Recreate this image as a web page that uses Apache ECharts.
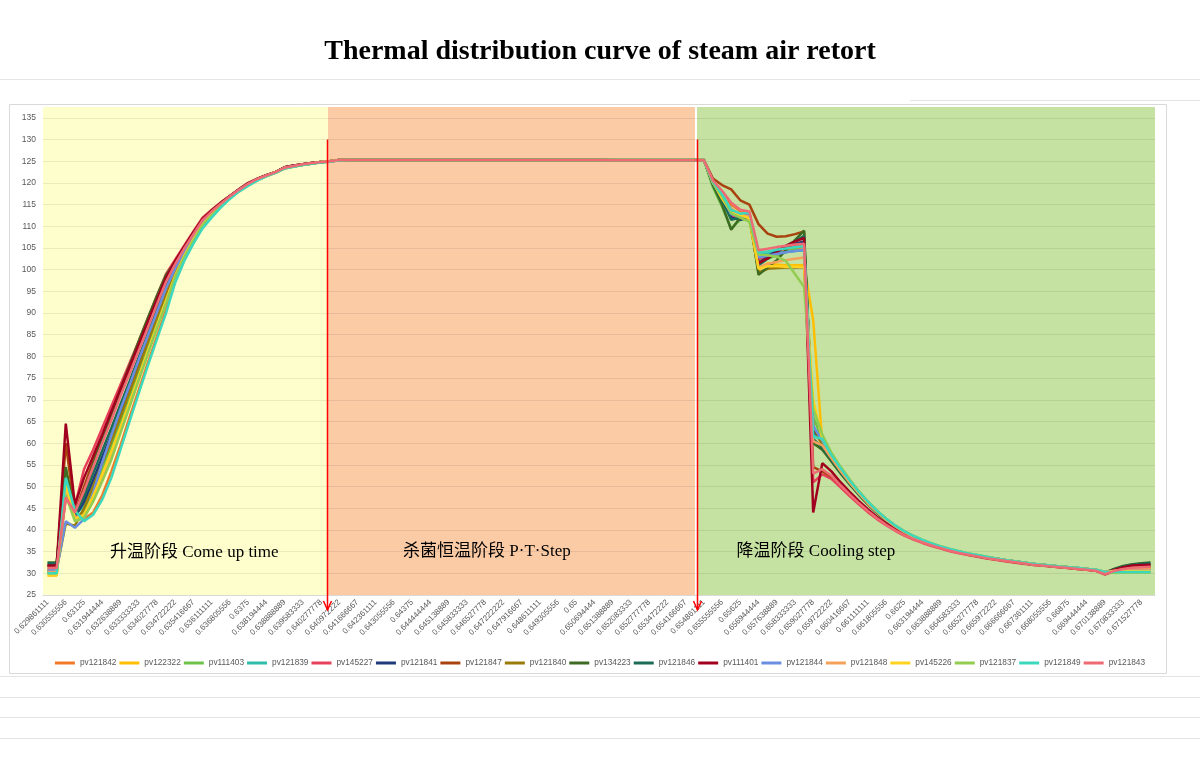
<!DOCTYPE html>
<html><head><meta charset="utf-8">
<script src="https://cdn.jsdelivr.net/npm/echarts@6/dist/echarts.min.js"></script>
<style>html,body{margin:0;padding:0;background:#fff}#c{width:1200px;height:760px}</style>
</head><body><div id="c"></div>
<script>
const categories = [
'0.629861111','0.630208333','0.630555556','0.630902778','0.63125','0.631597222','0.631944444','0.632291667','0.632638889','0.632986111',
'0.633333333','0.633680556','0.634027778','0.634375','0.634722222','0.635069444','0.635416667','0.635763889','0.636111111','0.636458333',
'0.636805556','0.637152778','0.6375','0.637847222','0.638194444','0.638541667','0.638888889','0.639236111','0.639583333','0.639930556',
'0.640277778','0.640625','0.640972222','0.641319444','0.641666667','0.642013889','0.642361111','0.642708333','0.643055556','0.643402778',
'0.64375','0.644097222','0.644444444','0.644791667','0.645138889','0.645486111','0.645833333','0.646180556','0.646527778','0.646875',
'0.647222222','0.647569444','0.647916667','0.648263889','0.648611111','0.648958333','0.649305556','0.649652778','0.65','0.650347222',
'0.650694444','0.651041667','0.651388889','0.651736111','0.652083333','0.652430556','0.652777778','0.653125','0.653472222','0.653819444',
'0.654166667','0.654513889','0.654861111','0.655208333','0.655555556','0.655902778','0.65625','0.656597222','0.656944444','0.657291667',
'0.657638889','0.657986111','0.658333333','0.658680556','0.659027778','0.659375','0.659722222','0.660069444','0.660416667','0.660763889',
'0.661111111','0.661458333','0.661805556','0.662152778','0.6625','0.662847222','0.663194444','0.663541667','0.663888889','0.664236111',
'0.664583333','0.664930556','0.665277778','0.665625','0.665972222','0.666319444','0.666666667','0.667013889','0.667361111','0.667708333',
'0.668055556','0.668402778','0.66875','0.669097222','0.669444444','0.669791667','0.670138889','0.670486111','0.670833333','0.671180556',
'0.671527778','0.671875'];

const seriesNames = ['pv121842','pv122322','pv111403','pv121839','pv145227','pv121841','pv121847','pv121840','pv134223','pv121846','pv111401','pv121844','pv121848','pv145226','pv121837','pv121849','pv121843'];
const seriesColors = ['#F07A2A','#FFBF00','#6CC24A','#2DBDAA','#E8405A','#1F3A7A','#A8420E','#9A7A0A','#3D6B22','#1C6B57','#A0001E','#6A8EE0','#F5A05A','#FFD21F','#92CC50','#3CD8BE','#EE6B74'];

const pv121842 = [30.5,30.5,48,43,42.5,44,48,53.5,59.5,66,72.3,78.5,84.6,90.8,97.3,102.3,106.2,109.8,112.3,114.5,116.5,118.1,119.4,120.6,121.6,122.3,123.3,123.8,124.2,124.5,124.7,124.9,
125.2,125.3,125.3,125.3,125.3,125.3,125.3,125.3,125.3,125.3,125.3,125.3,125.3,125.3,125.3,125.3,125.3,125.3,125.3,125.3,125.3,125.3,125.3,125.3,125.3,125.3,125.3,125.3,125.3,125.3,125.3,125.3,125.3,125.3,125.3,125.3,125.3,125.3,125.3,125.3,125.3,
120.5,118,115,113.5,113,102,102.8,103.6,104.4,104.9,105.3,62.5,60,56.8,53.8,51,48.5,46.2,44.2,42.4,40.9,39.6,38.5,37.6,36.8,36.1,35.5,35,34.5,34.1,33.7,33.4,33.1,32.8,32.5,32.2,32,31.8,31.6,31.4,31.2,31,30.8,30.3,30.9,31.2,31.2,31.2,31.2];
const pv122322 = [29.5,29.5,54,43,44,48.5,53.5,58.8,64.4,70.2,76,81.9,87.8,93.5,99,103.4,107.1,110.6,112.8,114.8,116.6,118.2,119.6,120.7,121.6,122.4,123.4,123.8,124.2,124.5,124.8,125,
125.3,125.3,125.3,125.3,125.3,125.3,125.3,125.3,125.3,125.3,125.3,125.3,125.3,125.3,125.3,125.3,125.3,125.3,125.3,125.3,125.3,125.3,125.3,125.3,125.3,125.3,125.3,125.3,125.3,125.3,125.3,125.3,125.3,125.3,125.3,125.3,125.3,125.3,125.3,125.3,125.3,
120,116,113,112.5,111.5,100,101.5,101.2,101,101,101,88.4,60,57,54,51.2,48.6,46.3,44.3,42.5,40.9,39.6,38.5,37.6,36.8,36.1,35.5,35,34.5,34.1,33.7,33.3,33,32.7,32.4,32.1,31.9,31.7,31.5,31.3,31.1,30.9,30.7,30.2,30.4,30.6,30.8,30.9,31];
const pv111403 = [30.5,30.5,48.5,42.5,44.5,49.2,54.4,59.6,65.2,71,76.8,82.6,88.4,94,99.3,103.6,107.3,110.7,112.8,114.8,116.6,118.3,119.6,120.8,121.7,122.4,123.4,123.8,124.2,124.5,124.8,125,
125.3,125.3,125.3,125.3,125.3,125.3,125.3,125.3,125.3,125.3,125.3,125.3,125.3,125.3,125.3,125.3,125.3,125.3,125.3,125.3,125.3,125.3,125.3,125.3,125.3,125.3,125.3,125.3,125.3,125.3,125.4,125.4,125.4,125.4,125.4,125.4,125.4,125.4,125.4,125.4,125.4,
119,114.5,109.5,111.5,112,102,102.5,103.3,104,104.8,105.8,66,61,57.2,54.2,51.4,48.8,46.5,44.4,42.6,41,39.7,38.6,37.7,36.9,36.2,35.6,35.1,34.6,34.2,33.8,33.4,33.1,32.8,32.5,32.2,32,31.8,31.6,31.4,31.2,31,30.8,30.3,30.2,30.3,30.3,30.3,30.3];
const pv121839 = [30.2,30.2,52,43.5,45.5,50.5,56,61.2,66.8,72.4,78,83.7,89.4,94.9,99.7,103.9,107.5,110.9,113,114.9,116.7,118.3,119.7,120.8,121.7,122.4,123.5,123.9,124.2,124.5,124.8,125,
125.3,125.3,125.3,125.3,125.3,125.3,125.3,125.3,125.3,125.3,125.3,125.3,125.3,125.3,125.3,125.3,125.3,125.3,125.3,125.3,125.3,125.3,125.3,125.3,125.3,125.3,125.3,125.3,125.3,125.3,125.3,125.3,125.3,125.3,125.3,125.3,125.3,125.3,125.3,125.3,125.3,
120.2,117,113.5,112.5,112.8,103.7,103.7,103.9,104.1,104.3,104.5,62,60.5,56.9,53.9,51.1,48.6,46.3,44.3,42.5,40.9,39.6,38.5,37.6,36.8,36.1,35.5,35,34.5,34.1,33.7,33.4,33.1,32.8,32.5,32.2,32,31.8,31.6,31.4,31.2,31,30.8,30.3,30.3,30.4,30.4,30.4,30.4];
const pv145227 = [31.8,31.8,47,45.5,54,58.5,63.5,68.5,73.5,78.5,83.5,88.8,94,99,102.3,105.6,108.8,112,113.8,115.5,117,118.6,120,121,121.8,122.5,123.6,124,124.3,124.6,124.8,125,
125.3,125.3,125.3,125.3,125.3,125.3,125.3,125.3,125.3,125.3,125.3,125.3,125.3,125.3,125.3,125.3,125.3,125.3,125.3,125.3,125.3,125.3,125.3,125.3,125.3,125.3,125.3,125.3,125.3,125.3,125.3,125.3,125.3,125.3,125.3,125.3,125.3,125.3,125.3,125.3,125.3,
120,116.5,112.5,112,112.5,102.5,103,104.2,105,105.6,106.2,51,52.8,51.8,49.8,47.8,45.9,44.1,42.5,41.1,39.8,38.7,37.8,37,36.3,35.7,35.1,34.6,34.2,33.8,33.4,33.1,32.8,32.5,32.2,32,31.8,31.6,31.4,31.2,31,30.8,30.6,29.7,30.4,30.9,31.2,31.3,31.4];
const pv121841 = [31.8,31.8,50,43,46.5,51.5,56.8,62,67.5,73,78.6,84.2,89.8,95.3,99.9,104.1,107.6,111,113.2,115,116.7,118.3,119.7,120.8,121.7,122.4,123.5,123.9,124.2,124.5,124.8,125,
125.3,125.3,125.3,125.3,125.3,125.3,125.3,125.3,125.3,125.3,125.3,125.3,125.3,125.3,125.3,125.3,125.3,125.3,125.3,125.3,125.3,125.3,125.3,125.3,125.3,125.3,125.3,125.3,125.3,125.3,125.3,125.3,125.3,125.3,125.3,125.3,125.3,125.3,125.3,125.3,125.3,
120,116.5,112,111.5,112,101.5,103,104.5,105.2,105.9,106.5,63,60.5,56.8,53.8,51,48.5,46.2,44.2,42.4,40.9,39.6,38.5,37.6,36.8,36.1,35.5,35,34.5,34.1,33.7,33.4,33.1,32.8,32.5,32.2,32,31.8,31.6,31.4,31.2,31,30.8,30.1,30.9,31.5,31.9,32,32.1];
const pv121847 = [31.6,31.6,60,44,50,55.8,61,66.3,71.6,76.8,82,87.3,92.6,97.6,101.6,105,108.3,111.4,113.5,115.3,116.9,118.5,119.8,120.9,121.7,122.5,123.5,123.9,124.3,124.6,124.8,125,
125.3,125.3,125.3,125.3,125.3,125.3,125.3,125.3,125.3,125.3,125.3,125.3,125.3,125.3,125.3,125.3,125.3,125.3,125.3,125.3,125.3,125.3,125.3,125.3,125.3,125.3,125.3,125.3,125.3,125.3,125.3,125.3,125.3,125.3,125.3,125.3,125.3,125.3,125.3,125.3,125.3,
121,119.5,118.5,116,115,110.5,108.3,107.6,107.7,108.2,108.8,54.5,53.5,52.3,50.5,48.5,46.5,44.6,42.9,41.4,40.1,39,38,37.2,36.5,35.9,35.3,34.8,34.3,33.9,33.5,33.2,32.9,32.6,32.3,32,31.8,31.6,31.4,31.2,31,30.8,30.6,29.8,30.6,31.1,31.5,31.7,31.8];
const pv121840 = [31,31,41.5,41,45,50,55.3,60.5,66,71.8,77.5,83.3,89,94.5,99.6,103.8,107.4,110.8,112.9,114.9,116.7,118.3,119.7,120.8,121.7,122.4,123.5,123.9,124.2,124.5,124.8,125,
125.3,125.3,125.3,125.3,125.3,125.3,125.3,125.3,125.3,125.3,125.3,125.3,125.3,125.3,125.3,125.3,125.3,125.3,125.3,125.3,125.3,125.3,125.3,125.3,125.3,125.3,125.3,125.3,125.3,125.3,125.3,125.3,125.3,125.3,125.3,125.3,125.3,125.3,125.3,125.3,125.3,
120.3,116.8,113.5,112.5,112,99.3,100.2,100.4,100.5,100.5,100.6,64,59.5,56.6,53.7,50.9,48.4,46.1,44.1,42.3,40.8,39.5,38.4,37.5,36.7,36,35.4,34.9,34.4,34,33.6,33.3,33,32.7,32.4,32.1,31.9,31.7,31.5,31.3,31.1,30.9,30.7,30.2,30.7,31.1,31.4,31.5,31.6];
const pv134223 = [32.5,32.5,54.5,43.5,48,55,61,66.8,72.5,78,83.5,88.8,94,98.8,101.8,105.2,108.5,111.6,113.6,115.4,117,118.5,119.9,120.9,121.8,122.5,123.6,124,124.3,124.6,124.8,125,
125.3,125.3,125.3,125.3,125.3,125.3,125.3,125.3,125.3,125.3,125.3,125.3,125.3,125.3,125.3,125.3,125.3,125.3,125.3,125.3,125.3,125.3,125.3,125.3,125.3,125.3,125.3,125.3,125.3,125.3,125.4,125.4,125.4,125.4,125.4,125.4,125.4,125.4,125.4,125.4,125.4,
119.5,115,109.2,112,113,98.8,100.5,102.2,104.5,106.8,109,60,58.5,55.8,53,50.5,48.1,45.9,43.9,42.1,40.6,39.3,38.3,37.4,36.7,36,35.4,34.9,34.4,34,33.6,33.3,33,32.7,32.4,32.1,31.9,31.7,31.5,31.3,31.1,30.9,30.7,30.1,31,31.7,32.1,32.3,32.5];
const pv121846 = [32.3,32.3,51,43.5,47.5,53,58.3,63.5,69,74.3,79.8,85.2,90.8,96.2,100.6,104.5,107.9,111.2,113.3,115.1,116.8,118.4,119.8,120.9,121.7,122.5,123.5,123.9,124.3,124.6,124.8,125,
125.3,125.3,125.3,125.3,125.3,125.3,125.3,125.3,125.3,125.3,125.3,125.3,125.3,125.3,125.3,125.3,125.3,125.3,125.3,125.3,125.3,125.3,125.3,125.3,125.3,125.3,125.3,125.3,125.3,125.3,125.3,125.3,125.3,125.3,125.3,125.3,125.3,125.3,125.3,125.3,125.3,
119.8,116,111.5,112,112.8,101,102.5,104,105.5,106.5,107.8,61,59,56.2,53.3,50.7,48.2,46,44,42.2,40.7,39.4,38.4,37.5,36.7,36,35.4,34.9,34.4,34,33.6,33.3,33,32.7,32.4,32.1,31.9,31.7,31.5,31.3,31.1,30.9,30.7,30.1,30.9,31.6,32,32.2,32.4];
const pv111401 = [31.8,31.8,64.5,45.8,52,57,62,67.3,72.5,77.6,82.8,88,93.2,98.2,102,105.3,108.6,111.7,113.6,115.4,117,118.5,119.9,120.9,121.8,122.5,123.6,124,124.3,124.6,124.8,125,
125.3,125.3,125.3,125.3,125.3,125.3,125.3,125.3,125.3,125.3,125.3,125.3,125.3,125.3,125.3,125.3,125.3,125.3,125.3,125.3,125.3,125.3,125.3,125.3,125.3,125.3,125.3,125.3,125.3,125.3,125.3,125.3,125.3,125.3,125.3,125.3,125.3,125.3,125.3,125.3,125.3,
120.5,117.5,114,112.5,113,101.5,102.6,104,105.5,106.5,107.3,44,55.4,53.5,51,48.8,46.7,44.8,43,41.5,40.2,39,38.1,37.3,36.6,36,35.4,34.9,34.4,34,33.6,33.3,33,32.7,32.4,32.1,31.9,31.7,31.5,31.3,31.1,30.9,30.7,30,30.8,31.4,31.8,31.9,32];
const pv121844 = [30.8,30.8,42,40.5,42.5,48.5,55.5,61.8,67.8,73.4,79.2,84.7,90.2,95.7,100.2,104.3,107.7,111.1,113.2,115,116.8,118.4,119.7,120.8,121.7,122.4,123.5,123.9,124.2,124.5,124.8,125,
125.3,125.3,125.3,125.3,125.3,125.3,125.3,125.3,125.3,125.3,125.3,125.3,125.3,125.3,125.3,125.3,125.3,125.3,125.3,125.3,125.3,125.3,125.3,125.3,125.3,125.3,125.3,125.3,125.3,125.3,125.3,125.3,125.3,125.3,125.3,125.3,125.3,125.3,125.3,125.3,125.3,
120,116.8,112.8,112.2,112.6,102.8,103.2,103.6,104,104.3,104.6,64,60.6,56.9,53.9,51.1,48.6,46.3,44.3,42.5,40.9,39.6,38.5,37.6,36.8,36.1,35.5,35,34.5,34.1,33.7,33.4,33.1,32.8,32.5,32.2,32,31.8,31.6,31.4,31.2,31,30.8,30.3,30.5,30.7,30.8,30.8,30.8];
const pv121848 = [30.3,30.3,49,43,43.2,47.5,52,57.2,62.8,68.8,74.8,80.8,86.8,92.6,98.5,103.1,106.9,110.3,112.6,114.7,116.5,118.1,119.5,120.7,121.6,122.4,123.4,123.8,124.2,124.5,124.8,125,
125.3,125.3,125.3,125.3,125.3,125.3,125.3,125.3,125.3,125.3,125.3,125.3,125.3,125.3,125.3,125.3,125.3,125.3,125.3,125.3,125.3,125.3,125.3,125.3,125.3,125.3,125.3,125.3,125.3,125.3,125.3,125.3,125.3,125.3,125.3,125.3,125.3,125.3,125.3,125.3,125.3,
120.3,117.5,114,112.8,112.2,100.5,101.3,101.8,102.2,102.5,102.8,60.5,59.5,56.5,53.6,50.9,48.4,46.1,44.1,42.3,40.8,39.5,38.4,37.5,36.7,36,35.4,34.9,34.4,34,33.6,33.3,33,32.7,32.4,32.1,31.9,31.7,31.5,31.3,31.1,30.9,30.7,30.2,30.6,30.9,31.1,31.1,31.1];
const pv145226 = [29.6,29.6,50.5,42.5,43.5,47.8,52.7,58,63.6,69.4,75.3,81.2,87.1,92.9,98.6,103.2,107,110.4,112.7,114.7,116.5,118.2,119.6,120.7,121.6,122.4,123.4,123.8,124.2,124.5,124.8,125,
125.3,125.3,125.3,125.3,125.3,125.3,125.3,125.3,125.3,125.3,125.3,125.3,125.3,125.3,125.3,125.3,125.3,125.3,125.3,125.3,125.3,125.3,125.3,125.3,125.3,125.3,125.3,125.3,125.3,125.3,125.3,125.3,125.3,125.3,125.3,125.3,125.3,125.3,125.3,125.3,125.3,
120.1,116.4,113.2,112.6,111.8,100.2,100.8,100.8,100.7,100.7,100.7,70,61,57.2,54.2,51.4,48.8,46.5,44.4,42.6,41,39.7,38.6,37.7,36.9,36.2,35.6,35.1,34.6,34.2,33.8,33.4,33.1,32.8,32.5,32.2,32,31.8,31.6,31.4,31.2,31,30.8,30.3,30.4,30.5,30.5,30.5,30.5];
const pv121837 = [30,30,48,42,42.8,46.5,51.2,56.2,62.3,68.4,74.5,80.5,86.5,92.3,98.3,102.9,106.7,110.2,112.5,114.6,116.5,118.2,119.5,120.7,121.6,122.4,123.4,123.8,124.2,124.5,124.8,125,
125.3,125.3,125.3,125.3,125.3,125.3,125.3,125.3,125.3,125.3,125.3,125.3,125.3,125.3,125.3,125.3,125.3,125.3,125.3,125.3,125.3,125.3,125.3,125.3,125.3,125.3,125.3,125.3,125.3,125.3,125.4,125.4,125.4,125.4,125.4,125.4,125.4,125.4,125.4,125.4,125.4,
120,117,113,112,111,103.5,103.3,103,102,99,96,68,62,57.8,54.6,51.7,49,46.6,44.5,42.6,41,39.7,38.6,37.7,36.9,36.2,35.6,35.1,34.6,34.2,33.8,33.4,33.1,32.8,32.5,32.2,32,31.8,31.6,31.4,31.2,31,30.8,30.3,30.1,30.2,30.2,30.2,30.2];
const pv121849 = [30,30,52,44.5,42,43.5,47,52,58.5,65,71.5,77.8,84,90,97,102,106,109.5,112,114.3,116.3,118,119.3,120.5,121.5,122.3,123.3,123.7,124.1,124.4,124.7,124.9,
125.2,125.3,125.3,125.3,125.3,125.3,125.3,125.3,125.3,125.3,125.3,125.3,125.3,125.3,125.3,125.3,125.3,125.3,125.3,125.3,125.3,125.3,125.3,125.3,125.3,125.3,125.3,125.3,125.3,125.3,125.3,125.3,125.3,125.3,125.3,125.3,125.3,125.3,125.3,125.3,125.3,
120.4,117.4,113.8,112.9,113.2,104,104.2,104.6,104.9,105.2,105.4,61.5,61,57.2,54.2,51.4,48.8,46.5,44.4,42.6,41,39.7,38.6,37.7,36.9,36.2,35.6,35.1,34.6,34.2,33.8,33.4,33.1,32.8,32.5,32.2,32,31.8,31.6,31.4,31.2,31,30.8,30.3,30.3,30.3,30.3,30.3,30.3];
const pv121843 = [31.2,31.2,47.5,44,49,54.5,60,65.3,70.8,76,81.3,86.6,92,97.2,101.3,104.9,108.2,111.4,113.4,115.2,116.9,118.4,119.8,120.9,121.7,122.5,123.5,123.9,124.3,124.6,124.8,125,
125.3,125.3,125.3,125.3,125.3,125.3,125.3,125.3,125.3,125.3,125.3,125.3,125.3,125.3,125.3,125.3,125.3,125.3,125.3,125.3,125.3,125.3,125.3,125.3,125.3,125.3,125.3,125.3,125.3,125.3,125.3,125.3,125.3,125.3,125.3,125.3,125.3,125.3,125.3,125.3,125.3,
120.6,118.2,115.5,113.8,113.4,104.5,104.8,105.2,105.5,105.8,106,53,54,52.5,50.3,48.2,46.2,44.4,42.7,41.2,39.9,38.8,37.9,37.1,36.4,35.8,35.2,34.7,34.3,33.9,33.5,33.2,32.9,32.6,32.3,32,31.8,31.6,31.4,31.2,31,30.8,30.6,29.8,30.5,31,31.3,31.4,31.5];

const titleText = 'Thermal distribution curve of steam air retort';
const stageLabels = ['升温阶段 Come up time', '杀菌恒温阶段 P·T·Step', '降温阶段 Cooling step'];
const stageColors = ['#FEFECC', '#FBCBA6', '#C6E2A3'];
const stageBounds = [[-0.5, 30.77], [30.77, 71.03], [71.25, 121.5]];
const stageLabelPos = [[16.1, 34.7], [48.2, 35.1], [84.3, 35.1]];
const arrowX = [30.66, 71.2];
const yMin = 25, yMax = 137.5, yStep = 5;

const dataMap = {pv121842, pv122322, pv111403, pv121839, pv145227, pv121841, pv121847, pv121840, pv134223, pv121846, pv111401, pv121844, pv121848, pv145226, pv121837, pv121849, pv121843};

const chart = echarts.init(document.getElementById('c'));

const lineSeries = seriesNames.map((n, k) => ({
  name: n, type: 'line', data: dataMap[n], xAxisIndex: 0, yAxisIndex: 0,
  symbol: 'none', showSymbol: false, z: 3,
  lineStyle: {width: 2.5, color: seriesColors[k]}, itemStyle: {color: seriesColors[k]}
}));

const bandSeries = {
  type: 'line', name: '__bands', xAxisIndex: 1, yAxisIndex: 0, data: [], silent: true, z: 1,
  markArea: {
    silent: true, z: -5,
    data: stageBounds.map((b, k) => [
      {xAxis: b[0], yAxis: yMin, itemStyle: {color: stageColors[k]}},
      {xAxis: b[1], yAxis: yMax}
    ])
  },
  markPoint: {
    silent: true, symbol: 'rect', symbolSize: 1, itemStyle: {color: 'rgba(0,0,0,0)'},
    label: {show: true, position: 'inside', color: '#000', fontSize: 17,
      fontFamily: "'Liberation Serif','Noto Sans CJK SC',serif"},
    data: stageLabels.map((t, k) => ({coord: stageLabelPos[k], label: {formatter: t}}))
  }
};

const decoLine = (x1, y1, x2, y2) => ({type: 'line', silent: true, z: -10,
  shape: {x1, y1, x2, y2}, style: {stroke: '#E4E4E4', lineWidth: 1}});

const deco = [
  decoLine(0, 79.5, 1200, 79.5),
  decoLine(910, 100.5, 1200, 100.5),
  decoLine(0, 676.5, 1200, 676.5),
  decoLine(0, 697.5, 1200, 697.5),
  decoLine(0, 717.5, 1200, 717.5),
  decoLine(0, 738.5, 1200, 738.5),
  {type: 'rect', silent: true, z: -9, shape: {x: 9.5, y: 104.5, width: 1157, height: 569},
    style: {fill: '#fff', stroke: '#D9D9D9', lineWidth: 1}}
];

chart.setOption({
  animation: false,
  backgroundColor: '#fff',
  title: {text: titleText, left: 'center', top: 33,
    textStyle: {fontFamily: "'Liberation Serif','Times New Roman',serif", fontSize: 28, fontWeight: 'bold', color: '#000'}},
  legend: {data: seriesNames, top: 654, left: 'center', icon: 'rect', itemWidth: 20, itemHeight: 3, itemGap: 3,
    textStyle: {fontSize: 8.3, color: '#595959', fontFamily: "'Liberation Sans',sans-serif"}},
  grid: {left: 43, right: 45, top: 107, bottom: 165, containLabel: false},
  xAxis: [
    {type: 'category', data: categories, boundaryGap: true,
      axisTick: {show: false}, axisLine: {lineStyle: {color: '#D9D9D9'}},
      axisLabel: {interval: 1, rotate: 45, fontSize: 8, color: '#595959', margin: 6, fontFamily: "'Liberation Sans',sans-serif"},
      splitLine: {show: false}},
    {type: 'value', min: -0.5, max: 121.5, show: false}
  ],
  yAxis: {type: 'value', min: yMin, max: yMax, interval: yStep,
    axisLine: {show: false}, axisTick: {show: false},
    axisLabel: {fontSize: 8.5, color: '#595959', margin: 7, showMaxLabel: false, fontFamily: "'Liberation Sans',sans-serif"},
    splitLine: {show: true, showMaxLine: false, lineStyle: {color: 'rgba(0,0,0,0.08)', width: 1}}},
  graphic: deco,
  series: [bandSeries].concat(lineSeries)
});

const arrows = [];
arrowX.forEach(v => {
  const top = chart.convertToPixel({seriesIndex: 0}, [v, 130]);
  const bot = chart.convertToPixel({seriesIndex: 0}, [v, yMin]);
  const x = Math.round(top[0]) + 0.5, yEnd = bot[1] + 15;
  arrows.push({type: 'line', silent: true, z: 100, shape: {x1: x, y1: top[1], x2: x, y2: yEnd}, style: {stroke: '#FF0000', lineWidth: 1.5}});
  arrows.push({type: 'polyline', silent: true, z: 100, shape: {points: [[x - 4, yEnd - 9], [x, yEnd], [x + 4, yEnd - 9]]}, style: {stroke: '#FF0000', lineWidth: 1.5, fill: null}});
});
chart.setOption({graphic: deco.concat(arrows)});
</script></body></html>
